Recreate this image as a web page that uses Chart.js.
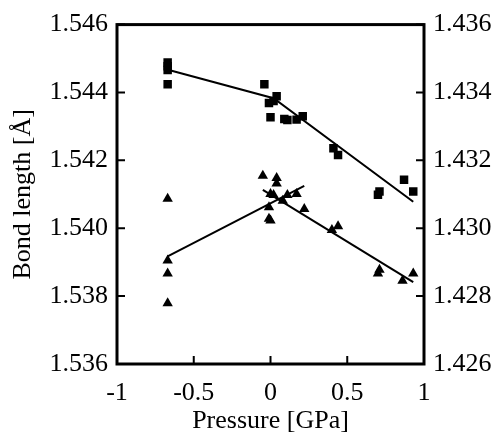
<!DOCTYPE html>
<html>
<head>
<meta charset="utf-8">
<script src="https://cdn.jsdelivr.net/npm/chart.js@4/dist/chart.umd.min.js"></script>
<style>
  body { margin: 0; background: #fff; }
  canvas { display: block; }
</style>
</head>
<body>
<canvas id="bond-chart" width="494" height="435"></canvas>
<script>
// squares (left axis)
var sqX = [-0.67, -0.67, -0.67, -0.67, -0.04, -0.01, 0.02, 0.04, 0.00, 0.09, 0.11, 0.17, 0.21, 0.41, 0.44, 0.70, 0.71, 0.87, 0.93]
var sqY = [1.54488, 1.54477, 1.54466, 1.54424, 1.54424, 1.54369, 1.54375, 1.54389, 1.54327, 1.54322, 1.54319, 1.54320, 1.54330, 1.54236, 1.54216, 1.54099, 1.54108, 1.54143, 1.54108]

// triangles (right axis)
var triX = [-0.67, -0.67, -0.67, -0.67, -0.05, 0.04, 0.04, 0.00, 0.02, 0.08, 0.11, 0.17, -0.01, -0.01, 0.00, 0.22, 0.40, 0.44, 0.70, 0.71, 0.86, 0.93]
var triY = [1.43087, 1.42905, 1.42867, 1.42779, 1.43155, 1.43148, 1.43132, 1.43101, 1.43098, 1.43081, 1.43098, 1.43101, 1.43062, 1.43028, 1.43023, 1.43057, 1.42995, 1.43006, 1.42867, 1.42878, 1.42845, 1.42867]

// fitted lines
var sqFitX = [-0.65, 0.02, 0.93]
var sqFitY = [1.54465, 1.54383, 1.54078]
var triUpX = [-0.67, 0.22]
var triUpY = [1.42917, 1.43125]
var triDownX = [-0.05, 0.93]
var triDownY = [1.43113, 1.42841]

var xTicks = [-1, -0.5, 0, 0.5, 1]
var yLeftRange = [1.536, 1.546]
var yRightRange = [1.426, 1.436]

function toPoints(xs, ys){
  var pts = []
  for (var i = 0; i < xs.length; i++){
    pts.push({x: xs[i], y: ys[i]})
  }
  return pts
}

var FONT = {family: "'Liberation Serif', 'DejaVu Serif', serif", size: 26}

// frame + inward ticks
var framePlugin = {
  id: 'frame',
  afterDatasetsDraw: function(chart){
    var ctx = chart.ctx
    var a = chart.chartArea
    var tl = 8
    ctx.save()
    ctx.strokeStyle = '#000'
    ctx.lineWidth = 2
    ctx.beginPath()
    chart.scales.x.ticks.forEach(function(t){
      if (t.value <= -1 || t.value >= 1) return
      var px = chart.scales.x.getPixelForValue(t.value)
      ctx.moveTo(px, a.bottom)
      ctx.lineTo(px, a.bottom - tl)
    })
    chart.scales.y.ticks.forEach(function(t){
      var py = chart.scales.y.getPixelForValue(t.value)
      ctx.moveTo(a.left, py)
      ctx.lineTo(a.left + tl, py)
    })
    chart.scales.y1.ticks.forEach(function(t){
      var py = chart.scales.y1.getPixelForValue(t.value)
      ctx.moveTo(a.right, py)
      ctx.lineTo(a.right - tl, py)
    })
    ctx.stroke()
    ctx.lineWidth = 3
    ctx.strokeRect(a.left, a.top, a.right - a.left, a.bottom - a.top)
    ctx.restore()
  }
}

var lineStyle = {showLine: true, borderColor: '#000', borderWidth: 2, pointRadius: 0, fill: false}

new Chart(document.getElementById('bond-chart'), {
  type: 'scatter',
  data: {
    datasets: [
      Object.assign({data: toPoints(sqFitX, sqFitY), yAxisID: 'y'}, lineStyle),
      Object.assign({data: toPoints(triUpX, triUpY), yAxisID: 'y1'}, lineStyle),
      Object.assign({data: toPoints(triDownX, triDownY), yAxisID: 'y1'}, lineStyle),
      {
        data: toPoints(sqX, sqY), yAxisID: 'y',
        pointStyle: 'rect', pointRadius: 6, pointHoverRadius: 6,
        backgroundColor: '#000', borderColor: '#000', borderWidth: 0
      },
      {
        data: toPoints(triX, triY), yAxisID: 'y1',
        pointStyle: 'triangle', pointRadius: 6, pointHoverRadius: 6,
        backgroundColor: '#000', borderColor: '#000', borderWidth: 0
      }
    ]
  },
  options: {
    responsive: false,
    animation: false,
    layout: {padding: {top: 23, left: 0, right: 0, bottom: 0}},
    plugins: {legend: {display: false}, tooltip: {enabled: false}},
    scales: {
      x: {
        type: 'linear', min: -1, max: 1,
        afterBuildTicks: function(s){ s.ticks = xTicks.map(function(v){ return {value: v} }) },
        afterFit: function(s){ s.height = 71 },
        grid: {display: false, drawTicks: false},
        border: {display: false},
        ticks: {
          color: '#000', font: FONT, padding: 14, maxRotation: 0,
          callback: function(v){ return String(v) }
        },
        title: {display: true, text: 'Pressure [GPa]', color: '#000', font: FONT, padding: {top: 0, bottom: -2}}
      },
      y: {
        type: 'linear', position: 'left', min: yLeftRange[0], max: yLeftRange[1],
        afterFit: function(s){ s.width = 117 },
        grid: {display: false, drawTicks: false},
        border: {display: false},
        ticks: {
          color: '#000', font: FONT, padding: 9, stepSize: 0.002,
          callback: function(v){ return v.toFixed(3) }
        },
        title: {display: true, text: 'Bond length [Å]', color: '#000', font: FONT, padding: {top: 8, bottom: 0}}
      },
      y1: {
        type: 'linear', position: 'right', min: yRightRange[0], max: yRightRange[1],
        afterFit: function(s){ s.width = 70 },
        grid: {display: false, drawTicks: false},
        border: {display: false},
        ticks: {
          color: '#000', font: FONT, padding: 9, stepSize: 0.002,
          callback: function(v){ return v.toFixed(3) }
        }
      }
    }
  },
  plugins: [framePlugin]
})
</script>
</body>
</html>
